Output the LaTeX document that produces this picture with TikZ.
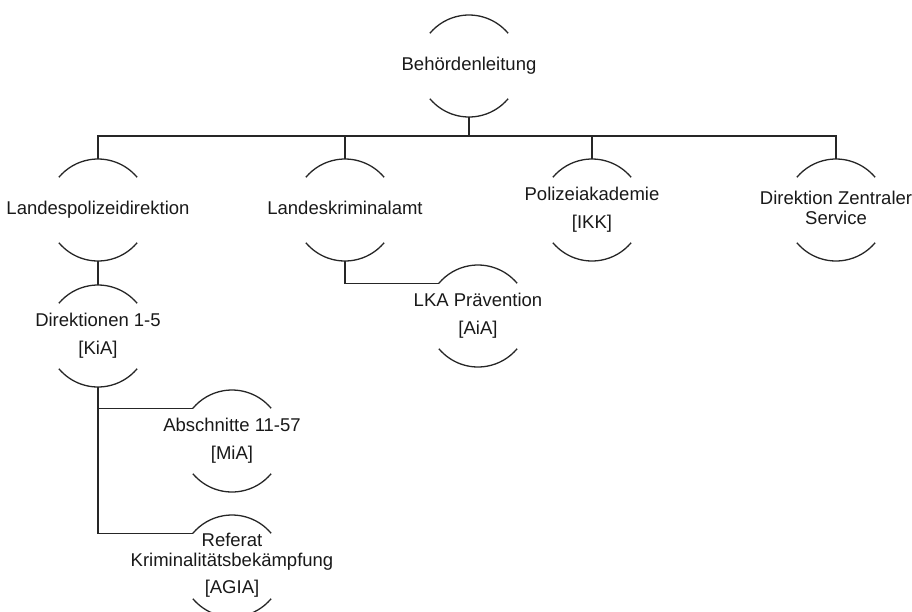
\documentclass[tikz,border=0pt]{standalone}
\usepackage{fontspec}
\setmainfont{Liberation Sans}
\newcommand\orgtext[1]{\makebox[0pt]{\begin{tabular}{@{}c@{}}#1\end{tabular}}}
\begin{document}
\begin{tikzpicture}[x=1pt,y=1pt,
  org/.style={circle,draw=none,minimum size=102pt,inner sep=0pt,outer sep=0pt,
    font=\fontsize{18.5}{20}\selectfont,text=black!90},
  line/.style={draw=black!85,line width=1.3pt},
  arcline/.style={draw=black!85,line width=1.3pt}]
\useasboundingbox (0,0) rectangle (912,-611);
\node[org] (b) at (469,-66) {\orgtext{Behördenleitung}};
\node[org] (l) at (98,-210) {\orgtext{Landespolizeidirektion}};
\node[org] (k) at (345,-210) {\orgtext{Landeskriminalamt}};
\node[org] (p) at (592,-210) {\orgtext{Polizeiakademie\\[8pt][IKK]}};
\node[org] (d) at (836,-210) {\orgtext{Direktion Zentraler\\Service}};
\node[org] (di) at (98,-336) {\orgtext{Direktionen 1-5\\[8pt][KiA]}};
\node[org] (lp) at (478,-316) {\orgtext{LKA Prävention\\[8pt][AiA]}};
\node[org] (ab) at (232,-441) {\orgtext{Abschnitte 11-57\\[8pt][MiA]}};
\node[org] (re) at (232,-566) {\orgtext{Referat\\Kriminalitätsbekämpfung\\[7pt][AGIA]}};
\foreach \n in {b,l,k,p,d,di,lp,ab,re}{
  \draw[arcline] (\n.40) arc (40:140:51);
  \draw[arcline] (\n.220) arc (220:320:51);
}
\coordinate (bus) at (469,-136);
\draw[line] (b.south) -- (bus);
\draw[line] (l.north) |- (bus) -| (d.north);
\draw[line] (k.north) -- (k.north |- bus);
\draw[line] (p.north) -- (p.north |- bus);
\draw[line] (l.south) -- (di.north);
\draw[line] (k.south) |- (lp.140);
\draw[line] (di.south) |- (ab.140);
\draw[line] (di.south) |- (re.140);
\end{tikzpicture}
\end{document}
